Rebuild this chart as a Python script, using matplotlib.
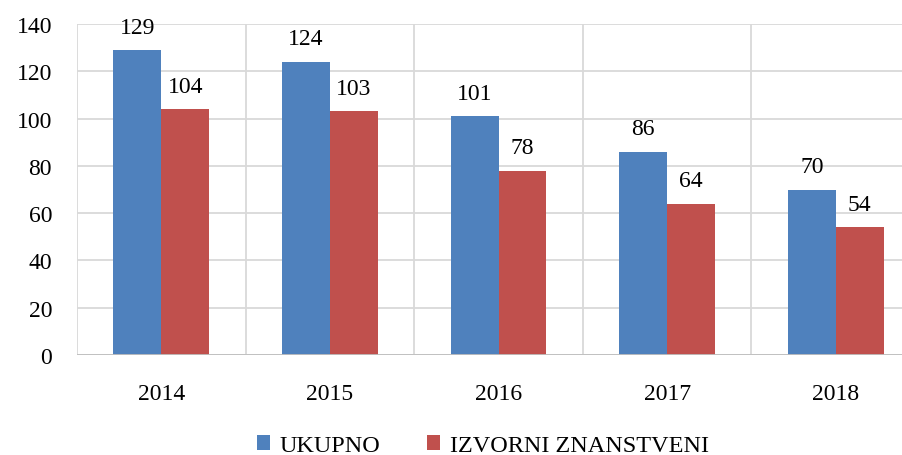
import matplotlib
matplotlib.use('Agg')
import matplotlib.pyplot as plt
import numpy as np

years = ['2014', '2015', '2016', '2017', '2018']
ukupno = [129, 124, 101, 86, 70]
izvorni = [104, 103, 78, 64, 54]

plt.rcParams['font.family'] = ['Liberation Serif', 'DejaVu Serif']

fig = plt.figure(figsize=(9.02, 4.56), dpi=100)
# plot area runs past the right edge, as in the reference
ax = fig.add_axes([77/902., 1 - 356/456., (920-77)/902., (356-25)/456.])

x = np.arange(len(years))
w = 0.284
b1 = ax.bar(x - w/2, ukupno, w, color='#4F81BD', label='UKUPNO', zorder=3)
b2 = ax.bar(x + w/2, izvorni, w, color='#C0504D', label='IZVORNI ZNANSTVENI', zorder=3)

for bars, vals in ((b1, ukupno), (b2, izvorni)):
	for r, v in zip(bars, vals):
		ax.annotate(str(v), (r.get_x() + r.get_width()/2, v), xytext=(0, 9),
					textcoords='offset points', ha='center', va='bottom', fontsize=17)

ax.set_xlim(-0.5, len(years) - 0.5)
ax.set_ylim(0, 140)
ax.set_yticks(range(0, 141, 20))
ax.set_xticks(x)
ax.set_xticklabels(years)
ax.tick_params(length=0, labelsize=17)
ax.tick_params(axis='y', pad=18)
ax.tick_params(axis='x', pad=20)

# gridlines: horizontal at ticks, vertical at category boundaries
ax.yaxis.grid(True, color='#D9D9D9', linewidth=1.3, zorder=0)
for b in np.arange(-0.5, len(years), 1.0):
	ax.axvline(b, color='#D9D9D9', linewidth=1.3, zorder=0)
for s in ax.spines.values():
	s.set_visible(False)
ax.axhline(0, color='#BFBFBF', linewidth=1.3, zorder=4)

fig.legend(handles=[b1, b2], loc='lower center', bbox_to_anchor=(0.535, -0.05), ncol=2,
		   frameon=False, fontsize=17.5, handlelength=0.55, handleheight=0.55,
		   handletextpad=0.4, columnspacing=1.9)

fig.savefig('out.png', dpi=100)
